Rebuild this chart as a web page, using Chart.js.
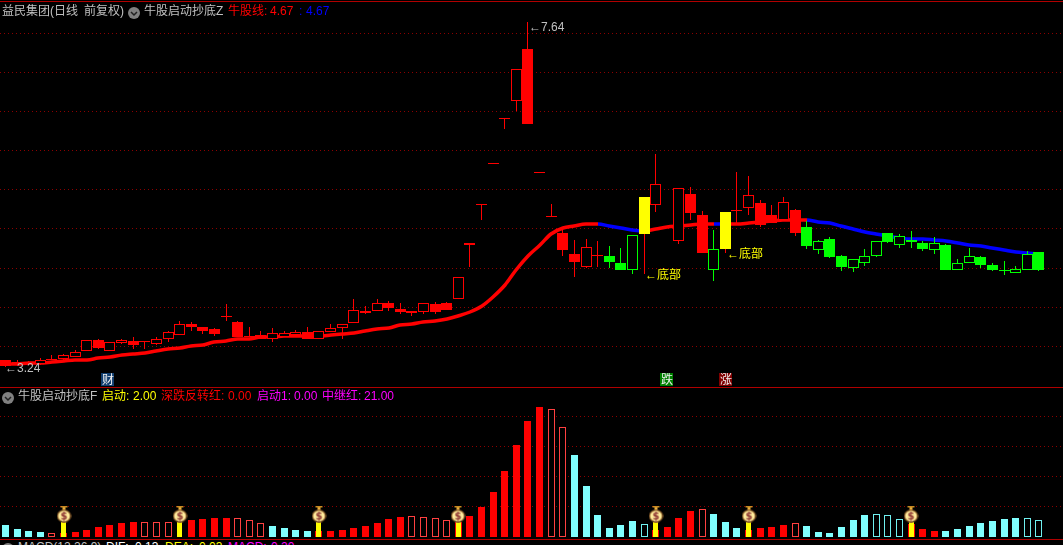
<!DOCTYPE html>
<html>
<head>
<meta charset="utf-8">
<title>益民集团 牛股启动抄底</title>
<script src="https://cdn.jsdelivr.net/npm/chart.js@4"></script>
<style>
  html, body { margin: 0; background: #000; width: 1063px; height: 545px; overflow: hidden; }
  canvas { position: absolute; left: 0; }
  #priceChart { top: 0; }
  #indChart { top: 388px; }
  .sep { position: absolute; left: 0; width: 1063px; height: 1px; background: #b00000; }
  .hd { position: absolute; white-space: pre; font: 12px/14px "Liberation Sans", "Noto Sans CJK SC", sans-serif; }
  .ico { position: absolute; width: 12px; height: 12px; }
</style>
</head>
<body>
<canvas id="priceChart" width="1063" height="386"></canvas>
<canvas id="indChart" width="1063" height="149"></canvas>
<div class="sep" style="top:1px"></div>
<div class="sep" style="top:387px"></div>
<div class="sep" style="top:539px"></div>
<div id="headers"></div>
<script>
// K线数据
const openPrice = [
  3.33,3.27,3.28,3.27,3.32,3.34,3.37,3.44,3.58,3.44,
  3.54,3.57,3.55,3.53,3.59,3.64,3.79,3.75,3.72,3.88,
  3.81,3.63,3.65,3.59,3.62,3.65,3.68,3.59,3.68,3.73,
  3.80,3.93,3.95,4.05,3.98,3.92,3.94,4.04,4.05,4.10,
  4.79,5.30,5.83,6.41,6.63,7.30,5.72,5.15,4.95,4.68,
  4.51,4.65,4.65,4.56,4.47,5.41,5.30,5.04,4.84,5.45,
  5.18,4.47,5.22,5.23,5.27,5.33,5.18,5.11,5.24,5.03,
  4.73,4.87,4.65,4.50,4.57,4.65,4.95,4.79,4.86,4.82,
  4.73,4.79,4.47,4.57,4.64,4.54,4.46,4.44,4.48,4.71
];
const closePrice = [
  3.25,3.30,3.30,3.33,3.34,3.39,3.43,3.58,3.48,3.55,
  3.58,3.52,3.55,3.59,3.68,3.79,3.75,3.70,3.66,3.88,
  3.62,3.62,3.59,3.67,3.67,3.68,3.60,3.69,3.74,3.78,
  3.96,3.95,4.05,3.99,3.94,3.95,4.05,3.94,3.97,4.38,
  4.82,5.30,5.83,6.41,7.05,6.34,5.72,5.15,4.73,4.58,
  4.77,4.65,4.58,4.47,4.92,4.94,5.58,5.01,5.52,5.21,
  4.69,4.74,4.75,5.23,5.44,5.05,5.08,5.34,4.95,4.78,
  4.84,4.64,4.51,4.61,4.65,4.84,4.83,4.91,4.83,4.74,
  4.82,4.48,4.57,4.65,4.54,4.48,4.46,4.49,4.68,4.48
];
const highPrice = [
  3.33,3.33,3.31,3.35,3.39,3.40,3.45,3.58,3.59,3.55,
  3.59,3.62,3.57,3.62,3.70,3.82,3.81,3.75,3.73,4.04,
  3.82,3.75,3.69,3.74,3.70,3.71,3.75,3.69,3.79,3.78,
  4.11,4.01,4.11,4.08,4.05,3.95,4.05,4.07,4.07,4.38,
  4.82,5.30,5.83,6.41,7.05,7.64,5.72,5.32,4.99,4.86,
  4.87,4.85,4.78,4.76,4.92,5.41,5.96,5.04,5.52,5.54,
  5.23,4.99,5.22,5.73,5.68,5.37,5.31,5.41,5.25,5.10,
  4.86,4.90,4.67,4.61,4.74,4.84,4.95,4.94,4.97,4.85,
  4.90,4.81,4.62,4.76,4.65,4.57,4.59,4.53,4.72,4.71
];
const lowPrice = [
  3.24,3.25,3.27,3.26,3.32,3.31,3.36,3.44,3.47,3.44,
  3.53,3.47,3.46,3.52,3.55,3.64,3.70,3.66,3.63,3.83,
  3.62,3.62,3.59,3.56,3.62,3.62,3.60,3.59,3.68,3.60,
  3.80,3.91,3.95,3.95,3.91,3.89,3.91,3.91,3.97,4.10,
  4.51,5.11,5.83,6.28,6.51,6.34,5.72,5.15,4.65,4.38,
  4.50,4.52,4.50,4.47,4.42,4.42,5.22,5.01,4.81,5.11,
  4.69,4.34,4.69,5.07,5.18,5.03,5.07,5.11,4.91,4.74,
  4.68,4.63,4.46,4.45,4.53,4.64,4.82,4.76,4.76,4.72,
  4.68,4.48,4.47,4.57,4.50,4.46,4.41,4.44,4.48,4.46
];
// r 红空心, R 红实心, g 绿空心, G 绿实心, Y 黄色(底部)
const candleKind = [
  'R','r','r','r','r','r','r','r','R','r',
  'r','R','r','r','r','r','R','R','R','r',
  'R','R','R','r','r','r','R','r','r','r',
  'r','r','r','R','R','r','r','R','R','r',
  'r','r','r','r','r','R','r','r','R','R',
  'r','r','G','G','g','Y','r','R','r','R',
  'R','g','Y','r','r','R','R','r','R','G',
  'g','G','G','g','g','g','G','g','G','G',
  'g','G','g','g','G','G','g','g','g','G'
];
// 牛股线
const bullLine = [
  3.28,3.28,3.29,3.29,3.30,3.31,3.32,3.33,3.35,3.37,
  3.39,3.40,3.42,3.44,3.46,3.48,3.50,3.52,3.55,3.57,
  3.59,3.60,3.62,3.62,3.63,3.63,3.63,3.63,3.65,3.66,
  3.67,3.69,3.72,3.74,3.77,3.79,3.81,3.83,3.85,3.89,
  3.94,4.02,4.13,4.28,4.48,4.66,4.80,4.93,5.01,5.04,
  5.06,5.06,5.04,5.01,4.99,4.98,5.00,5.02,5.04,5.05,
  5.06,5.06,5.06,5.06,5.07,5.09,5.10,5.11,5.11,5.11,
  5.09,5.07,5.04,5.00,4.96,4.93,4.91,4.88,4.87,4.87,
  4.86,4.84,4.82,4.80,4.78,4.76,4.73,4.70,4.69,4.68
];
// 1 红, 0 蓝
const bullTrend = [
  1,1,1,1,1,1,1,1,1,1, 1,1,1,1,1,1,1,1,1,1,
  1,1,1,1,1,1,1,1,1,1, 1,1,1,1,1,1,1,1,1,1,
  1,1,1,1,1,1,1,1,1,1, 1,0,0,0,0,1,1,1,1,1,
  1,0,1,1,1,1,1,1,1,0, 0,0,0,0,0,0,0,0,0,0,
  0,0,0,0,0,0,0,0,0,0
];
const priceGrid = [3.5, 4.0, 4.5, 5.0, 5.5, 6.0, 6.5, 7.0, 7.5];

// 副图柱子
const indValues = [
  15,10,7,6,5,5,6,9,12,15,
  17,19,19,19,19,0,21,22,23,23,
  23,21,17,14,11,9,7,7,7,9,
  11,14,17,22,25,26,25,23,21,19,
  26,37,56,82,114,143,161,158,136,101,
  63,27,11,15,20,16,9,12,23,32,
  35,28,19,11,9,11,12,15,17,14,
  6,5,12,21,27,28,27,22,16,10,
  7,7,10,14,17,20,22,23,23,21
];
const indKind = [
  'C','C','C','C','r','R','R','R','R','R',
  'R','R','r','r','r','R','R','R','R','R',
  'r','r','r','C','C','C','C','R','R','R',
  'R','R','R','R','R','r','r','r','r','R',
  'R','R','R','R','R','R','R','r','r','C',
  'C','C','C','C','C','c','R','R','R','R',
  'r','C','C','C','R','R','R','R','r','C',
  'C','C','C','C','C','c','c','c','R','R',
  'R','C','C','C','C','C','C','C','c','c'
];
const startIndex = [5, 15, 27, 39, 56, 64, 78];
const startBar = 18.5;
const bagLevel = 28;
const indGrid = [38, 75, 112, 149];

// 文字标注
const noteText = ['←3.24', '←7.64', '←底部', '←底部'];
const noteIndex = [0, 45.1, 55.1, 62.1];
const notePrice = [3.21, 7.57, 4.40, 4.67];
const noteColor = ['#c0c0c0', '#c0c0c0', '#ffff00', '#ffff00'];
const tagText = ['财', '跌', '涨'];
const tagIndex = [8.87, 57, 62.05];
const tagColor = ['#123f70', '#008000', '#800000'];
const tagPrice = 3.076;

const RED = '#ff0000', GREEN = '#00ff00', BLUE = '#0000ff', YELLOW = '#ffff00', CYAN = '#80ffff';
const CJK = '"Liberation Sans", "Noto Sans CJK SC", sans-serif';
const indexes = openPrice.map((_, i) => i);
const xAxis = { type: 'linear', display: false, offset: false, min: -0.4737, max: 91.08 };

function yAxis(min, max, grid) {
  return {
    min: min,
    max: max,
    afterBuildTicks: (scale) => { scale.ticks = grid.map((v) => ({ value: v })); },
    ticks: { display: false },
    border: { display: false, dash: [1, 3] },
    grid: { color: '#8c0000', drawTicks: false, tickLength: 0 },
  };
}

// 柱子对齐到整像素, 不然1px的影线会发虚
const snapPlugin = {
  id: 'snap',
  afterDatasetsUpdate(chart) {
    chart.data.datasets.forEach((ds, d) => {
      chart.getDatasetMeta(d).data.forEach((el) => {
        if (el.base === undefined) {
          el.x = Math.round(el.x);
          el.y = Math.round(el.y);
          return;
        }
        el.x = Math.floor(el.x) + 0.5;
        const top = Math.round(Math.min(el.y, el.base));
        let bottom = Math.round(Math.max(el.y, el.base));
        if (bottom === top && ds.minBarLength) bottom = top + 1;
        el.y = top;
        el.base = bottom;
        el.height = bottom - top;
      });
    });
  },
};

const notesPlugin = {
  id: 'notes',
  afterDatasetsDraw(chart) {
    const { ctx, scales } = chart;
    ctx.save();
    ctx.font = '12px ' + CJK;
    ctx.textBaseline = 'middle';
    noteText.forEach((t, i) => {
      ctx.fillStyle = noteColor[i];
      ctx.textAlign = 'left';
      ctx.fillText(t, Math.round(scales.x.getPixelForValue(noteIndex[i])), Math.round(scales.y.getPixelForValue(notePrice[i])));
    });
    tagText.forEach((t, i) => {
      const x = Math.round(scales.x.getPixelForValue(tagIndex[i]));
      const y = Math.round(scales.y.getPixelForValue(tagPrice));
      ctx.fillStyle = tagColor[i];
      ctx.fillRect(x - 7, y - 7, 13, 13);
      ctx.fillStyle = '#f0f0f0';
      ctx.textAlign = 'center';
      ctx.fillText(t, x, y + 0.5);
    });
    ctx.restore();
  },
};

new Chart(document.getElementById('priceChart').getContext('2d'), {
  type: 'bar',
  plugins: [snapPlugin, notesPlugin],
  data: {
    datasets: [
      {
        type: 'line',
        order: 3,
        data: indexes.map((i) => ({ x: i, y: bullLine[i] })),
        borderWidth: 3.5,
        borderColor: RED,
        pointRadius: 0,
        cubicInterpolationMode: 'monotone',
        segment: { borderColor: (c) => (bullTrend[c.p0DataIndex] ? RED : BLUE) },
      },
      {
        order: 2,
        grouped: false,
        barThickness: 1,
        inflateAmount: 0,
        data: indexes.map((i) => ({ x: i, y: [lowPrice[i], highPrice[i]] })),
        backgroundColor: candleKind.map((k) => (k === 'g' || k === 'G' ? GREEN : RED)),
      },
      {
        order: 1,
        grouped: false,
        barThickness: 11,
        inflateAmount: 0,
        minBarLength: 1,
        borderWidth: 1,
        borderSkipped: false,
        data: indexes.map((i) => ({ x: i, y: [openPrice[i], closePrice[i]] })),
        borderColor: candleKind.map((k) => (k === 'Y' ? YELLOW : k === 'g' || k === 'G' ? GREEN : RED)),
        backgroundColor: candleKind.map((k) =>
          k === 'Y' ? YELLOW : k === 'R' ? RED : k === 'G' ? GREEN : '#000000'),
      },
    ],
  },
  options: {
    responsive: false,
    animation: false,
    devicePixelRatio: 1,
    layout: { padding: 0, autoPadding: false },
    plugins: { legend: { display: false }, tooltip: { enabled: false } },
    scales: { x: xAxis, y: yAxis(2.993, 7.926, priceGrid) },
  },
});

// 钱袋图标
function makeBag() {
  const c = document.createElement('canvas');
  c.width = 15;
  c.height = 17;
  const g = c.getContext('2d');
  g.fillStyle = '#c98a20';
  g.fillRect(4, 0, 7, 2);
  g.fillStyle = '#e8b040';
  g.fillRect(6, 2, 3, 3);
  g.beginPath();
  g.ellipse(7.5, 10.5, 6.5, 5.8, 0, 0, Math.PI * 2);
  g.fillStyle = '#ffeb9c';
  g.fill();
  g.lineWidth = 1.2;
  g.strokeStyle = '#8a5a28';
  g.stroke();
  g.fillStyle = '#8a3030';
  g.font = 'bold 10px "DejaVu Sans", sans-serif';
  g.textAlign = 'center';
  g.textBaseline = 'middle';
  g.fillText('$', 7.5, 11);
  return c;
}

const indBorder = { R: RED, r: '#ff4040', C: CYAN, c: '#70f0f0' };
const indFill = { R: RED, r: '#000000', C: CYAN, c: '#000000' };

new Chart(document.getElementById('indChart').getContext('2d'), {
  type: 'bar',
  plugins: [snapPlugin],
  data: {
    datasets: [
      {
        type: 'line',
        order: 0,
        showLine: false,
        data: startIndex.map((i) => ({ x: i, y: bagLevel })),
        pointStyle: makeBag(),
      },
      {
        order: 1,
        grouped: false,
        barThickness: 5,
        inflateAmount: 0,
        data: startIndex.map((i) => ({ x: i, y: startBar })),
        backgroundColor: YELLOW,
      },
      {
        order: 2,
        grouped: false,
        barThickness: 7,
        inflateAmount: 0,
        borderWidth: 1,
        borderSkipped: false,
        data: indexes.map((i) => ({ x: i, y: indValues[i] })),
        borderColor: indKind.map((k) => indBorder[k]),
        backgroundColor: indKind.map((k) => indFill[k]),
      },
    ],
  },
  options: {
    responsive: false,
    animation: false,
    devicePixelRatio: 1,
    layout: { padding: 0, autoPadding: false },
    plugins: { legend: { display: false }, tooltip: { enabled: false } },
    scales: { x: xAxis, y: yAxis(0, 184.07, indGrid) },
  },
});

// 顶部文字
const GREY = '#c0c0c0', MAGENTA = '#ff00ff', WHITE = '#ffffff';
const headerRows = [
  [4, 2, '益民集团(日线', GREY], [4, 84, '前复权)', GREY], [4, 144, '牛股启动抄底Z', GREY],
  [4, 228, '牛股线:', RED], [4, 270, '4.67', RED], [4, 299, ':', BLUE], [4, 306, '4.67', BLUE],
  [389, 18, '牛股启动抄底F', GREY], [389, 102, '启动:', YELLOW], [389, 133, '2.00', YELLOW],
  [389, 161, '深跌反转红:', RED], [389, 228, '0.00', RED], [389, 257, '启动1:', MAGENTA],
  [389, 294, '0.00', MAGENTA], [389, 322, '中继红:', MAGENTA], [389, 364, '21.00', MAGENTA],
  [540, 18, 'MACD(12,26,9)', GREY], [540, 106, 'DIF:', WHITE], [540, 135, '0.13', WHITE],
  [540, 165, 'DEA:', YELLOW], [540, 199, '0.03', YELLOW], [540, 228, 'MACD:', MAGENTA], [540, 271, '0.20', MAGENTA],
];
const iconSpots = [[128, 5], [2, 390], [2, 541]];
const box = document.getElementById('headers');
headerRows.forEach(([top, left, text, color]) => {
  const el = document.createElement('div');
  el.className = 'hd';
  el.style.cssText = `top:${top}px;left:${left}px;color:${color}`;
  el.textContent = text;
  box.appendChild(el);
});
iconSpots.forEach(([left, top]) => {
  const el = document.createElement('div');
  el.className = 'ico';
  el.style.cssText = `left:${left}px;top:${top}px`;
  el.innerHTML = '<svg width="12" height="12"><circle cx="6" cy="6" r="6" fill="#808080"/>' +
    '<polyline points="3,5 6,8 9,5" fill="none" stroke="#202020" stroke-width="1.5"/></svg>';
  box.appendChild(el);
});
</script>
</body>
</html>
